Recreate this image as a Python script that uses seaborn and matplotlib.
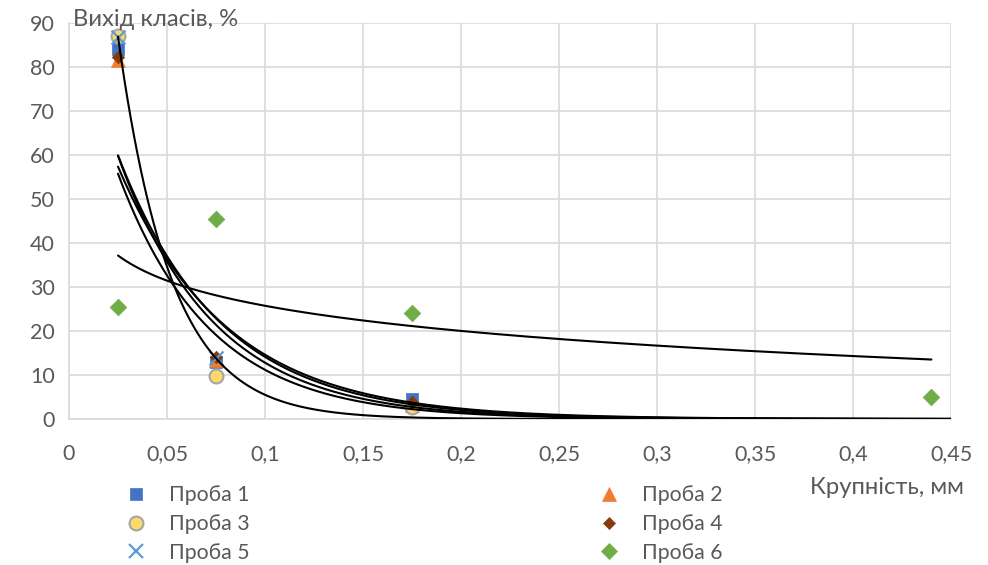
import numpy as np
import matplotlib
matplotlib.use("Agg")
import matplotlib.pyplot as plt
from matplotlib.lines import Line2D
from matplotlib.ticker import FixedLocator, FuncFormatter
import seaborn as sns

# Particle size classes, mm
sizes = [0.025, 0.075, 0.175]
sizes5 = [0.025, 0.075]
sizes6 = [0.025, 0.075, 0.175, 0.44]

# Class yield, %
proba1 = [84.0, 13.0, 4.5]
proba2 = [81.7, 13.4, 3.2]
proba3 = [87.0, 9.8, 2.8]
proba4 = [82.3, 14.2, 3.9]
proba5 = [86.9, 13.8]
proba6 = [25.5, 45.5, 24.0, 4.9]

labels = ["Проба 1", "Проба 2", "Проба 3", "Проба 4", "Проба 5", "Проба 6"]
x_ticks = [0, 0.05, 0.1, 0.15, 0.2, 0.25, 0.3, 0.35, 0.4, 0.45]
y_ticks = [0, 10, 20, 30, 40, 50, 60, 70, 80, 90]

FORECAST = 0.275  # forward extension of exponential trends

sns.set_style("white")
plt.rcParams["font.family"] = ["Lato", "Noto Sans", "DejaVu Sans"]
TXT = "#595959"
GRID = "#d9d9d9"
TICK_FS = 15.5
TITLE_FS = 17.2
LEG_FS = 15.3

fig = plt.figure(figsize=(9.88, 5.65), dpi=100)
W, H = 988, 565
ax = fig.add_axes([69 / W, 1 - 419 / H, (951 - 69) / W, (419 - 23) / H])


def exp_trend(x, y):
    x = np.asarray(x, float)
    b, ln_a = np.polyfit(x, np.log(y), 1)
    xs = np.linspace(x.min(), x.max() + FORECAST, 400)
    return xs, np.exp(ln_a + b * xs)


def log_trend(x, y):
    x = np.asarray(x, float)
    b, a = np.polyfit(np.log(x), y, 1)
    xs = np.linspace(x.min(), x.max(), 400)
    return xs, a + b * np.log(xs)


series = [
    (sizes, proba1, dict(marker="s", s=72, color="#4472C4", edgecolor="#4472C4", linewidth=0.5)),
    (sizes, proba2, dict(marker="^", s=100, color="#ED7D31", edgecolor="#ED7D31", linewidth=0.5)),
    (sizes, proba3, dict(marker="o", s=100, color="#FFD966", edgecolor="#A5A5A5", linewidth=1.5)),
    (sizes, proba4, dict(marker="D", s=40, color="#843C0C", edgecolor="#843C0C", linewidth=0.5)),
    (sizes5, proba5, dict(marker="x", s=100, color="#5B9BD5", edgecolor="#5B9BD5", linewidth=1.6)),
    (sizes6, proba6, dict(marker="D", s=72, color="#70AD47", edgecolor="#70AD47", linewidth=0.5)),
]

for x, y, kw in series:
    sns.scatterplot(x=x, y=y, ax=ax, zorder=3, legend=False, **kw)

# Trend lines: exponential for samples 1-5, logarithmic for sample 6
for x, y, _ in series[:5]:
    xs, ys = exp_trend(x, y)
    sns.lineplot(x=xs, y=ys, ax=ax, color="black", linewidth=1.5,
                 sort=False, estimator=None, legend=False, zorder=5)
xs, ys = log_trend(sizes6, proba6)
sns.lineplot(x=xs, y=ys, ax=ax, color="black", linewidth=1.5,
             sort=False, estimator=None, legend=False, zorder=5)

ax.set_xlim(0, 0.45)
ax.set_ylim(0, 90)
ax.xaxis.set_major_locator(FixedLocator(x_ticks))
ax.yaxis.set_major_locator(FixedLocator(y_ticks))
ax.xaxis.set_major_formatter(FuncFormatter(lambda v, p: f"{v:g}".replace(".", ",")))
ax.yaxis.set_major_formatter(FuncFormatter(lambda v, p: f"{v:g}"))
ax.grid(True, color=GRID, linewidth=1.2)
ax.set_axisbelow(True)
for side in ("top", "right"):
    ax.spines[side].set_visible(False)
for side in ("left", "bottom"):
    ax.spines[side].set_color(GRID)
    ax.spines[side].set_linewidth(1.2)
ax.tick_params(axis="both", colors=GRID, labelcolor=TXT, labelsize=TICK_FS,
               length=5, width=1.2, direction="out")
ax.tick_params(axis="x", pad=13)
ax.tick_params(axis="y", pad=5)
ax.set_xlabel("")
ax.set_ylabel("")

fig.text(73 / W, 1 - 26 / H, "Вихід класів, %", color=TXT, fontsize=TITLE_FS,
         ha="left", va="baseline")
fig.text(964 / W, 1 - 488 / H, "Крупність, мм", color=TXT, fontsize=TITLE_FS,
         ha="right", va="center")


def handle(kw):
    return Line2D([], [], linestyle="none", marker=kw["marker"],
                  markersize=np.sqrt(kw["s"]), markerfacecolor=kw["color"],
                  markeredgecolor=kw["edgecolor"], markeredgewidth=kw["linewidth"])


leg_kw = dict(frameon=False, fontsize=LEG_FS, labelcolor=TXT, handlelength=1.0,
              handletextpad=1.05, labelspacing=0.42, borderpad=0, borderaxespad=0,
              loc="center left")
fig.legend([handle(series[i][2]) for i in (0, 2, 4)], [labels[i] for i in (0, 2, 4)],
           bbox_to_anchor=(125 / W, 1 - 524 / H), **leg_kw)
fig.legend([handle(series[i][2]) for i in (1, 3, 5)], [labels[i] for i in (1, 3, 5)],
           bbox_to_anchor=(598 / W, 1 - 524 / H), **leg_kw)

fig.savefig("out.png", dpi=100)
